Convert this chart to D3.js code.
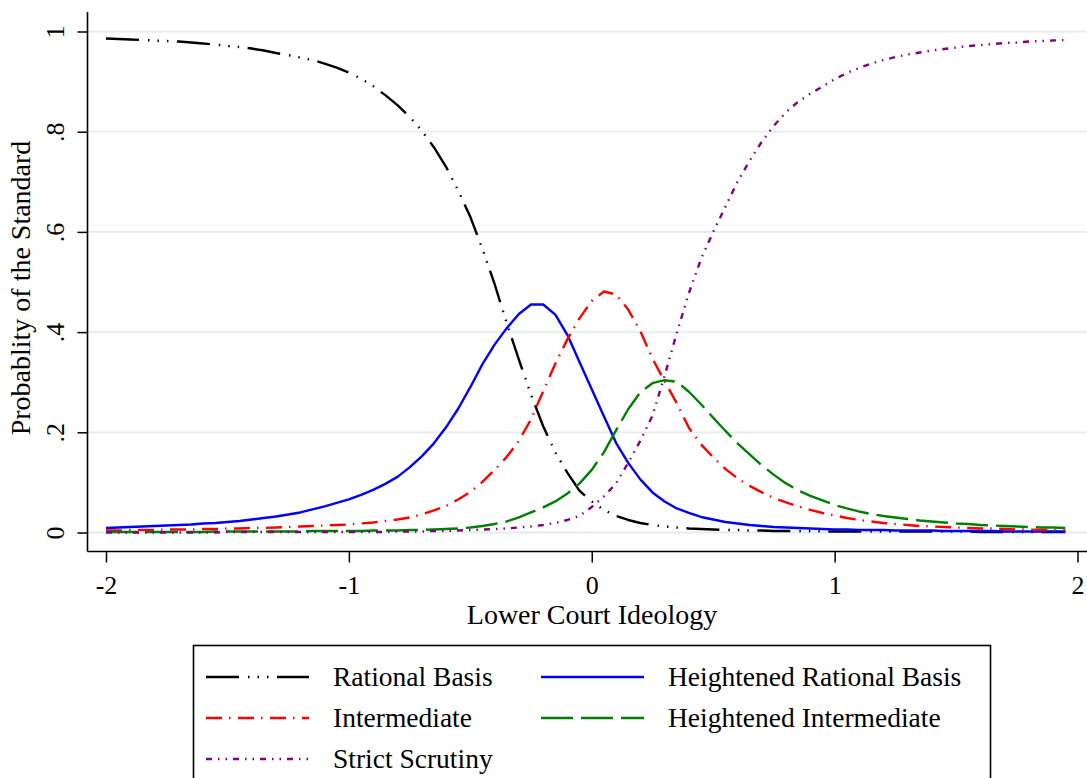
<!DOCTYPE html>
<html>
<head>
<meta charset="utf-8">
<script src="https://cdnjs.cloudflare.com/ajax/libs/d3/7.8.5/d3.min.js"></script>
<style>
    body { margin: 0; background: #fff; }
    svg { display: block; font-family: "Liberation Serif", "Times New Roman", serif; }
</style>
</head>
<body>
<div id="chart"></div>
<script>
// lower court ideology grid (x values of every point)
const ideology = [
    -2.00, -1.95, -1.90, -1.85, -1.80, -1.75, -1.70, -1.65, -1.60, -1.55,
    -1.50, -1.45, -1.40, -1.35, -1.30, -1.25, -1.20, -1.15, -1.10, -1.05,
    -1.00, -0.95, -0.90, -0.85, -0.80, -0.75, -0.70, -0.65, -0.60, -0.55,
    -0.50, -0.45, -0.40, -0.35, -0.30, -0.25, -0.20, -0.15, -0.10, -0.05,
    0.00, 0.05, 0.10, 0.15, 0.20, 0.25, 0.30, 0.35, 0.40, 0.45,
    0.50, 0.55, 0.60, 0.65, 0.70, 0.75, 0.80, 0.85, 0.90, 0.95,
    1.00, 1.05, 1.10, 1.15, 1.20, 1.25, 1.30, 1.35, 1.40, 1.45,
    1.50, 1.55, 1.60, 1.65, 1.70, 1.75, 1.80, 1.85, 1.90, 1.95
];

const rationalBasis = [
    .986, .985, .984, .983, .982, .981, .980, .978, .976, .974,
    .971, .969, .966, .962, .957, .953, .948, .943, .936, .928,
    .918, .906, .891, .873, .853, .830, .802, .769, .730, .683,
    .630, .566, .496, .418, .345, .275, .212, .160, .119, .083,
    .062, .045, .033, .025, .019, .015, .012, .010, .008, .007,
    .006, .005, .005, .004, .004, .003, .003, .003, .003, .002,
    .002, .002, .002, .002, .002, .002, .002, .002, .002, .002,
    .002, .002, .001, .001, .001, .001, .001, .001, .001, .001
];

const heightenedRational = [
    .009, .010, .011, .012, .013, .014, .015, .016, .018, .019,
    .021, .023, .026, .029, .032, .036, .040, .046, .052, .059,
    .066, .075, .085, .097, .111, .130, .152, .178, .210, .247,
    .290, .336, .375, .408, .436, .455, .455, .435, .394, .340,
    .286, .232, .179, .139, .106, .080, .062, .048, .039, .031,
    .026, .021, .018, .015, .013, .011, .010, .009, .008, .007,
    .006, .006, .005, .005, .005, .004, .004, .004, .004, .003,
    .003, .003, .003, .003, .002, .002, .002, .002, .002, .002
];

const intermediate = [
    .004, .004, .005, .005, .005, .006, .006, .006, .007, .007,
    .008, .008, .009, .009, .010, .011, .012, .013, .014, .015,
    .016, .018, .020, .023, .026, .030, .036, .044, .053, .066,
    .081, .101, .125, .151, .183, .226, .282, .337, .386, .428,
    .462, .481, .475, .445, .402, .347, .302, .258, .209, .176,
    .150, .127, .108, .093, .080, .069, .060, .052, .045, .039,
    .034, .029, .025, .022, .019, .017, .015, .013, .012, .011,
    .010, .009, .008, .008, .007, .006, .006, .005, .005, .004
];

const heightenedIntermediate = [
    .001, .001, .001, .001, .001, .001, .001, .001, .001, .002,
    .002, .002, .002, .002, .002, .002, .002, .003, .003, .003,
    .003, .003, .004, .004, .004, .005, .005, .006, .007, .008,
    .010, .013, .017, .022, .030, .040, .050, .062, .078, .098,
    .125, .160, .204, .246, .280, .298, .304, .301, .281, .256,
    .229, .203, .178, .156, .134, .115, .098, .084, .073, .064,
    .055, .048, .042, .037, .033, .030, .027, .024, .022, .020,
    .018, .017, .015, .014, .013, .012, .011, .010, .010, .009
];

const strictScrutiny = [
    .000, .000, .000, .000, .000, .000, .000, .000, .000, .000,
    .001, .001, .001, .001, .001, .001, .001, .001, .001, .001,
    .001, .001, .001, .001, .002, .002, .002, .003, .003, .004,
    .005, .006, .007, .008, .010, .012, .015, .019, .025, .033,
    .051, .072, .098, .139, .183, .233, .313, .398, .478, .546,
    .600, .650, .700, .742, .780, .812, .839, .860, .876, .890,
    .905, .917, .927, .936, .943, .949, .954, .958, .962, .965,
    .968, .971, .973, .975, .977, .978, .980, .981, .982, .983
];

const seriesNames = ["Rational Basis", "Heightened Rational Basis", "Intermediate",
    "Heightened Intermediate", "Strict Scrutiny"];
const seriesValues = [rationalBasis, heightenedRational, intermediate,
    heightenedIntermediate, strictScrutiny];

const yTicks = [0, .2, .4, .6, .8, 1];
const yTickLabels = ["0", ".2", ".4", ".6", ".8", "1"];
const xTicks = [-2, -1, 0, 1, 2];
const xTickLabels = ["-2", "-1", "0", "1", "2"];

// styles per series
const colors = ["#000000", "#0000ff", "#ff0000", "#008000", "#800080"];
const dashes = ["33 9 1.5 8 1.5 8 1.5 8.5", null, "16 7 1.5 7.5", "32 8", "6 6 1.5 6 1.5 6"];

const width = 1087, height = 778;
const axisX = 87.5, axisY = 551.5;
const fontFamily = '"Liberation Serif", "Times New Roman", serif';

const svg = d3.select("#chart").append("svg")
    .attr("width", width)
    .attr("height", height);

const x = d3.scaleLinear().domain([-2, 2]).range([106, 1077.5]);
const y = d3.scaleLinear().domain([0, 1]).range([532.5, 31.5]);

// gridlines
svg.append("g")
    .selectAll("line")
    .data(yTicks)
    .join("line")
    .attr("x1", axisX)
    .attr("x2", width)
    .attr("y1", d => y(d))
    .attr("y2", d => y(d))
    .attr("stroke", "#e3ecef")
    .attr("stroke-width", 1.8);

// y axis
const yAxis = svg.append("g")
    .attr("transform", `translate(${axisX},0)`)
    .call(d3.axisLeft(y).tickValues(yTicks).tickSize(10).tickFormat((d, i) => yTickLabels[i]))
    .attr("font-family", fontFamily)
    .attr("font-size", 26);
yAxis.select(".domain").remove();
yAxis.append("line")
    .attr("y1", 12).attr("y2", axisY)
    .attr("stroke", "#000").attr("stroke-width", 1.6);
yAxis.selectAll(".tick line").attr("stroke", "#000").attr("stroke-width", 1.5);
yAxis.selectAll(".tick text")
    .attr("x", null).attr("dy", null)
    .attr("transform", "translate(-24,0) rotate(-90)")
    .attr("text-anchor", "middle")
    .attr("fill", "#000");

// x axis
const xAxis = svg.append("g")
    .attr("transform", `translate(0,${axisY})`)
    .call(d3.axisBottom(x).tickValues(xTicks).tickSize(11).tickFormat((d, i) => xTickLabels[i]))
    .attr("font-family", fontFamily)
    .attr("font-size", 26);
xAxis.select(".domain").remove();
xAxis.append("line")
    .attr("x1", axisX).attr("x2", width)
    .attr("stroke", "#000").attr("stroke-width", 1.6);
xAxis.selectAll(".tick line").attr("stroke", "#000").attr("stroke-width", 1.5);
xAxis.selectAll(".tick text")
    .attr("y", 42).attr("dy", null)
    .attr("fill", "#000");

// axis titles
svg.append("text")
    .attr("x", 592).attr("y", 624)
    .attr("text-anchor", "middle")
    .attr("font-size", 28)
    .text("Lower Court Ideology");

svg.append("text")
    .attr("transform", "translate(30,288) rotate(-90)")
    .attr("text-anchor", "middle")
    .attr("font-size", 28)
    .text("Probablity of the Standard");

// curves
const line = d3.line()
    .x((d, i) => x(ideology[i]))
    .y(d => y(d));

svg.append("g")
    .selectAll("path")
    .data(seriesValues)
    .join("path")
    .attr("d", d => line(d))
    .attr("fill", "none")
    .attr("stroke", (d, i) => colors[i])
    .attr("stroke-width", 2.4)
    .attr("stroke-dasharray", (d, i) => dashes[i])
    .attr("stroke-linejoin", "round");

// legend
const legend = svg.append("g");
legend.append("rect")
    .attr("x", 193.5).attr("y", 645.5)
    .attr("width", 797).attr("height", 200)
    .attr("fill", "#fff")
    .attr("stroke", "#000").attr("stroke-width", 1.6);

const colX = [206, 541];
const rowY = [677, 718, 759];

const items = legend.selectAll("g.item")
    .data(seriesNames)
    .join("g")
    .attr("class", "item")
    .attr("transform", (d, i) => `translate(${colX[i % 2]},${rowY[Math.floor(i / 2)]})`);

items.append("line")
    .attr("x1", 0).attr("x2", 103)
    .attr("stroke", (d, i) => colors[i])
    .attr("stroke-width", 2.4)
    .attr("stroke-dasharray", (d, i) => dashes[i]);

items.append("text")
    .attr("x", 127).attr("y", 9)
    .attr("font-size", 27.5)
    .text(d => d);
</script>
</body>
</html>
